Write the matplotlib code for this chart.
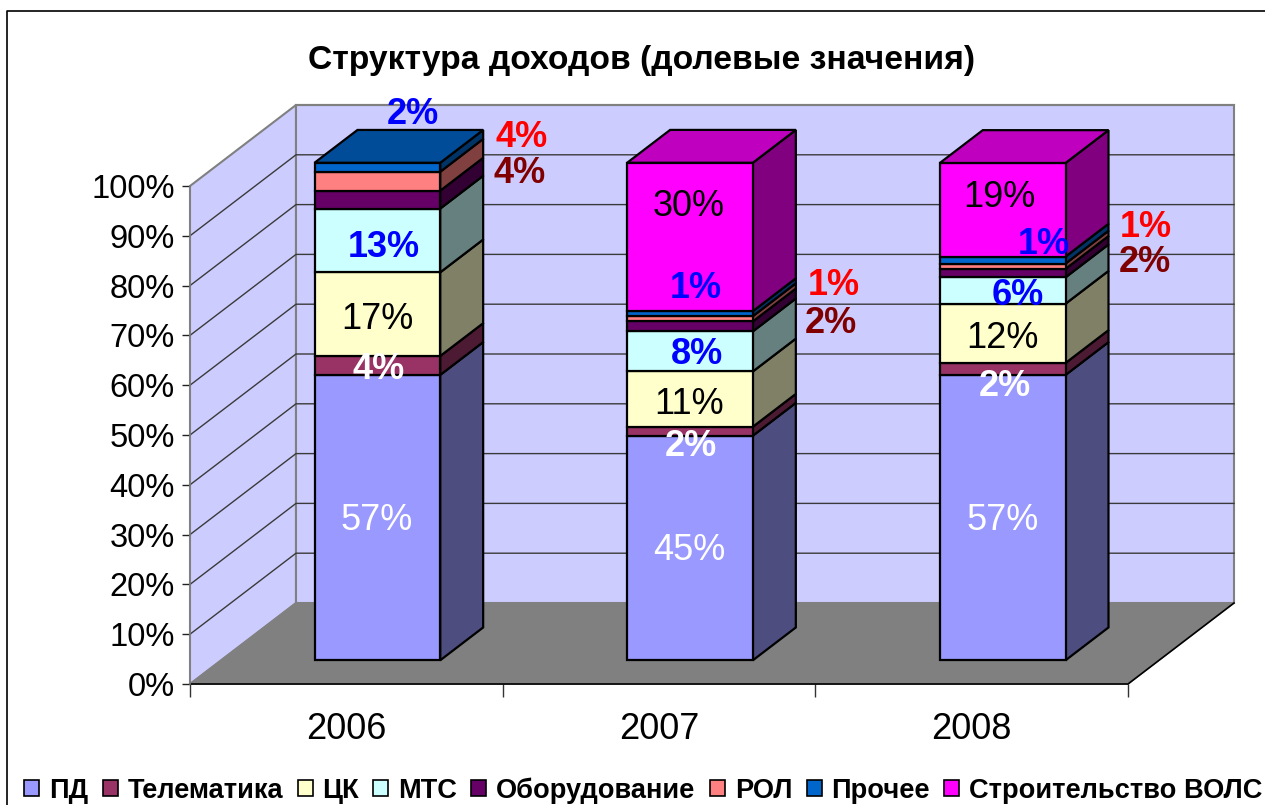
#!/usr/bin/env python3
import matplotlib
matplotlib.use("Agg")
import matplotlib.pyplot as plt
from matplotlib.lines import Line2D
from matplotlib.patches import Patch, Polygon

years = ["2006", "2007", "2008"]
series = ["ПД", "Телематика", "ЦК", "МТС", "Оборудование", "РОЛ", "Прочее", "Строительство ВОЛС"]

# shares (the printed labels are rounded)
pd_share = [57.3, 45.1, 57.3]
telematics = [3.8, 1.8, 2.4]
ck = [16.8, 11.1, 11.9]
mts = [12.8, 8.05, 5.3]
equipment = [3.6, 2.0, 1.7]
rol = [3.8, 1.06, 1.06]
other = [1.8, 1.0, 1.4]
vols = [0.0, 29.8, 18.8]
values = [pd_share, telematics, ck, mts, equipment, rol, other, vols]

labels_2006 = ["57%", "4%", "17%", "13%", "4%", "4%", "2%", None]
labels_2007 = ["45%", "2%", "11%", "8%", "2%", "1%", "1%", "30%"]
labels_2008 = ["57%", "2%", "12%", "6%", "2%", "1%", "1%", "19%"]
labels = [labels_2006, labels_2007, labels_2008]

# hand-placed label offsets from the segment centre, in pixels
offsets = [
    [(-1, -3), (1, -4), (0, -5), (6, -7), (142, 26), (144, 44), (35, 53), None],
    [(-1, -3), (1, -15), (-1, -5), (7, -3), (141, 3), (144, 33), (6, 25), (-1, 30)],
    [(0, -3), (2, -18), (0, -5), (15, -5), (142, 11), (143, 39), (41, 16), (-3, 12)],
]

front_colors = ["#9999FF", "#993366", "#FFFFCC", "#CCFFFF", "#660066", "#FF8080", "#0066CC", "#FF00FF"]
side_colors = ["#4D4D80", "#4D1A33", "#808066", "#668080", "#330033", "#804040", "#003366", "#800080"]
top_colors = ["#7373BF", "#73264D", "#BFBF99", "#99BFBF", "#4D004D", "#BF6060", "#004C99", "#BF00BF"]
label_colors = ["white", "white", "black", "#0000FF", "#800000", "#FF0000", "#0000FF", "black"]
label_weights = ["normal", "bold", "normal", "bold", "bold", "bold", "bold", "normal"]

W, H = 1265, 805
plt.rcParams["font.family"] = ["Liberation Sans", "DejaVu Sans"]

fig = plt.figure(figsize=(W / 100, H / 100), dpi=100)
ax = fig.add_axes([190 / W, 1 - 684 / H, 938 / W, 498 / H])
ax.set_xlim(-0.5, 2.5)
ax.set_ylim(0, 1)
ax.patch.set_visible(False)

# a point at depth 1 sits this far right/up of the front plane
DX = 106 / (938 / 3)
DY = 81 / 498


def proj(x, y, d):
    return (x + DX * d, y + DY * d)


def face(points, color, edge="black", lw=1.6, z=2):
    ax.add_patch(Polygon(points, closed=True, facecolor=color, edgecolor=edge, lw=lw,
                         joinstyle="miter", clip_on=False, zorder=z))


# walls and floor
WALL = "#CCCCFF"
GRID = "#3A3A3A"
face([proj(-0.5, 0, 0), proj(-0.5, 1, 0), proj(-0.5, 1, 1), proj(-0.5, 0, 1)], WALL, "#808080", 1.5, 1)
face([proj(-0.5, 0, 1), proj(-0.5, 1, 1), proj(2.5, 1, 1), proj(2.5, 0, 1)], WALL, "#808080", 1.5, 1)
face([proj(-0.5, 0, 0), proj(2.5, 0, 0), proj(2.5, 0, 1), proj(-0.5, 0, 1)], "#808080", "#808080", 1, 1)
for t in range(1, 10 + 1):
    y = t / 10
    if t < 10:
        a, b, c = proj(-0.5, y, 0), proj(-0.5, y, 1), proj(2.5, y, 1)
        ax.plot([a[0], b[0], c[0]], [a[1], b[1], c[1]], color=GRID, lw=1.0, clip_on=False, zorder=1.5)
    else:
        ax.plot([proj(-0.5, y, 1)[0], proj(2.5, y, 1)[0]], [proj(-0.5, y, 1)[1]] * 2,
                color="#808080", lw=1.5, clip_on=False, zorder=1.5)
a, b = proj(2.5, 0, 0), proj(2.5, 0, 1)
ax.plot([-0.5, a[0], b[0]], [0, a[1], b[1]], color="black", lw=1.2, clip_on=False, zorder=1.6)

# stacked bars
D0, D1 = 0.293, 0.698
HALF = 0.201
for i in range(len(years)):
    base = 0.0
    shown = [k for k in range(len(series)) if values[k][i] > 0]
    for k in shown:
        top = base + values[k][i] / 100
        xl, xr = i - HALF, i + HALF
        face([proj(xr, base, D0), proj(xr, top, D0), proj(xr, top, D1), proj(xr, base, D1)], side_colors[k])
        face([proj(xl, base, D0), proj(xr, base, D0), proj(xr, top, D0), proj(xl, top, D0)], front_colors[k])
        if k == shown[-1]:
            face([proj(xl, top, D0), proj(xr, top, D0), proj(xr, top, D1), proj(xl, top, D1)], top_colors[k])
        ax.annotate(labels[i][k], xy=proj(i, (base + top) / 2, D0), xytext=offsets[i][k],
                    textcoords="offset pixels", ha="center", va="center", fontsize=26,
                    color=label_colors[k], fontweight=label_weights[k], zorder=5,
                    annotation_clip=False)
        base = top

# axes
for side in ["top", "right", "bottom"]:
    ax.spines[side].set_visible(False)
ax.spines["left"].set_color("#808080")
ax.spines["left"].set_linewidth(1.2)
ax.set_yticks([t / 10 for t in range(11)])
ax.set_yticklabels([f"{t * 10}%" for t in range(11)], fontsize=23.5)
ax.tick_params(axis="y", length=6, width=1, color="#222222", pad=5)
ax.set_xticks([-0.5, 0.5, 1.5, 2.5])
ax.set_xticklabels([])
ax.tick_params(axis="x", length=9, width=1, color="#333333")
ax.set_xticks(range(len(years)), minor=True)
ax.set_xticklabels(years, minor=True, fontsize=26)
ax.tick_params(axis="x", which="minor", length=0, pad=20)

fig.text(642 / W, 1 - 61 / H, "Структура доходов (долевые значения)", ha="center", va="center",
         fontsize=24.2, fontweight="bold")

# chart frame, runs off the right and bottom of the picture
fig.add_artist(Line2D([7 / W, 7 / W, 1], [0, 1 - 11 / H, 1 - 11 / H], color="black", lw=1.2))

handles = [Patch(facecolor=c, edgecolor="black", lw=1.2) for c in front_colors]
fig.legend(handles, series, loc="lower left", bbox_to_anchor=(19 / W, -4 / H), ncol=8, frameon=False,
           prop={"size": 19.6, "weight": "bold"}, handlelength=0.55, handleheight=0.55,
           handletextpad=0.36, columnspacing=0.53, borderpad=0.2, borderaxespad=0)

fig.savefig("out.png", dpi=100)
